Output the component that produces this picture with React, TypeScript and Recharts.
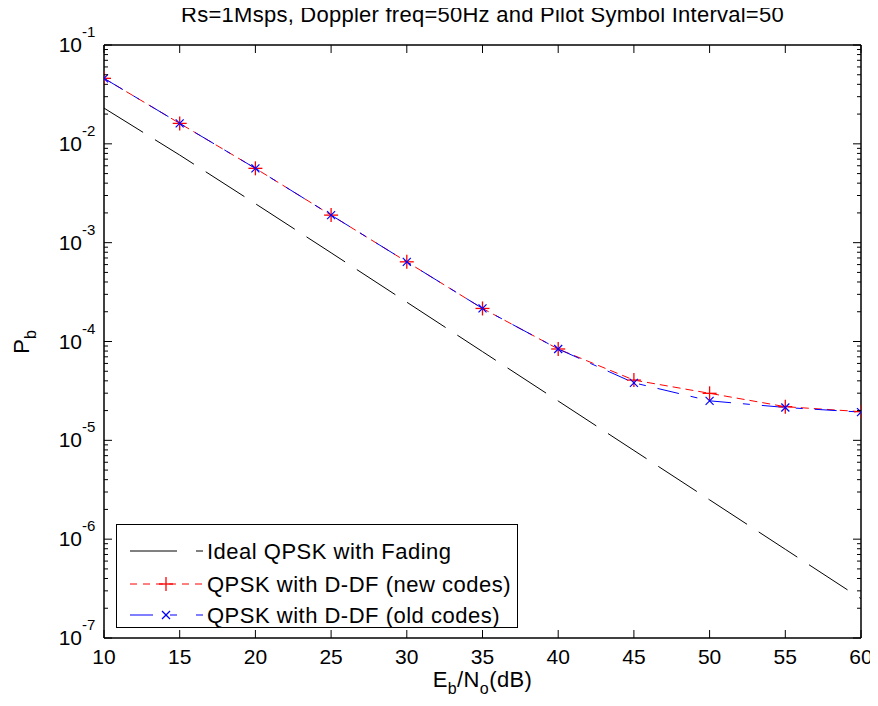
import React from 'react';
import { LineChart, Line, XAxis, YAxis, ReferenceLine, Legend } from 'recharts';

// ---- data ----
const ebNo = [10, 15, 20, 25, 30, 35, 40, 45, 50, 55, 60];
const idealQpsk = [2.3e-2, 7.7e-3, 2.48e-3, 7.9e-4, 2.5e-4, 7.9e-5, 2.5e-5, 7.9e-6, 2.5e-6, 7.9e-7, 2.5e-7];
const newCodes = [4.6e-2, 1.61e-2, 5.65e-3, 1.9e-3, 6.4e-4, 2.16e-4, 8.4e-5, 4.07e-5, 2.99e-5, 2.19e-5, 1.95e-5];
const oldCodes = [4.6e-2, 1.61e-2, 5.65e-3, 1.9e-3, 6.4e-4, 2.16e-4, 8.4e-5, 3.82e-5, 2.51e-5, 2.15e-5, 1.93e-5];

const xTicks = [10, 15, 20, 25, 30, 35, 40, 45, 50, 55, 60];
const yDecades = [1e-7, 1e-6, 1e-5, 1e-4, 1e-3, 1e-2, 1e-1];
const minorMultipliers = [2, 3, 4, 5, 6, 7, 8, 9];

const titleText = 'Rs=1Msps, Doppler freq=50Hz and Pilot Symbol Interval=50';
const seriesNames = {
  ideal: 'Ideal QPSK with Fading',
  newc: 'QPSK with D-DF (new codes)',
  oldc: 'QPSK with D-DF (old codes)',
};

const data = ebNo.map((x, i) => ({ x, ideal: idealQpsk[i], newc: newCodes[i], oldc: oldCodes[i] }));
const yTicks = [
  ...yDecades,
  ...yDecades.slice(0, -1).flatMap((d) => minorMultipliers.map((m) => d * m)),
].sort((a, b) => a - b);

// ---- layout ----
const W = 870;
const H = 698;
const PL = 96;
const PT = 37;
const PR = 17;
const XH = 68;
const PW = W - PL - PR;
const PH = H - PT - XH;
const FONT = '"Liberation Sans", Arial, Helvetica, sans-serif';

const STYLES: Record<string, { color: string; dash: string; width: number }> = {
  ideal: { color: '#000000', dash: '46 14', width: 1 },
  newc: { color: '#ff0000', dash: '8 5', width: 1 },
  oldc: { color: '#0000ff', dash: '22 12 7 12', width: 1 },
};

const YTick = (props: any) => {
  const { y, payload } = props;
  const v = payload.value;
  const lg = Math.log10(v);
  const major = Math.abs(lg - Math.round(lg)) < 1e-6;
  const len = major ? 8 : 4;
  return (
    <g>
      <line x1={PL} x2={PL + len} y1={y} y2={y} stroke="#000" strokeWidth={1} />
      <line x1={PL + PW} x2={PL + PW - len} y1={y} y2={y} stroke="#000" strokeWidth={1} />
      {major && (
        <g fontFamily={FONT} fill="#000">
          <text x={PL - 22} y={y + 7} textAnchor="end" fontSize={21}>10</text>
          <text x={PL - 22} y={y - 8} textAnchor="start" fontSize={15}>{String(Math.round(lg))}</text>
        </g>
      )}
    </g>
  );
};

const XTick = (props: any) => {
  const { x, payload } = props;
  return (
    <g>
      <line x1={x} x2={x} y1={PT + PH} y2={PT + PH - 8} stroke="#000" strokeWidth={1} />
      <line x1={x} x2={x} y1={PT} y2={PT + 8} stroke="#000" strokeWidth={1} />
      <text x={x} y={PT + PH + 26} textAnchor="middle" fontSize={21} fontFamily={FONT} fill="#000">
        {payload.value}
      </text>
    </g>
  );
};

const PlusDot = (props: any) => {
  const { cx, cy, index } = props;
  if (cx == null || cy == null) return <g key={`p${index}`} />;
  return (
    <g key={`p${index}`}>
      <line x1={cx - 7} x2={cx + 7} y1={cy} y2={cy} stroke="#ff0000" strokeWidth={1.3} />
      <line x1={cx} x2={cx} y1={cy - 7} y2={cy + 7} stroke="#ff0000" strokeWidth={1.3} />
    </g>
  );
};

const CrossDot = (props: any) => {
  const { cx, cy, index } = props;
  if (cx == null || cy == null) return <g key={`c${index}`} />;
  return (
    <g key={`c${index}`}>
      <line x1={cx - 4} x2={cx + 4} y1={cy - 4} y2={cy + 4} stroke="#0000ff" strokeWidth={1.2} />
      <line x1={cx - 4} x2={cx + 4} y1={cy + 4} y2={cy - 4} stroke="#0000ff" strokeWidth={1.2} />
    </g>
  );
};

const LegendBox = (props: any) => {
  const payload = (props.payload || []) as any[];
  const order = ['ideal', 'newc', 'oldc'];
  const rows = order
    .map((k) => payload.find((p) => p.dataKey === k))
    .filter(Boolean);
  const rowYs = [27, 60, 91];
  return (
    <svg width={402} height={104} style={{ display: 'block' }}>
      <rect x={0.5} y={0.5} width={401} height={103} fill="#fff" stroke="#000" strokeWidth={1} />
      {rows.map((p: any, i: number) => {
        const key = p.dataKey as string;
        const st = STYLES[key];
        const y = rowYs[i];
        return (
          <g key={key}>
            {key === 'ideal' && (
              <>
                <line x1={14} x2={61} y1={y} y2={y} stroke={st.color} strokeWidth={1} />
                <line x1={80} x2={87} y1={y} y2={y} stroke={st.color} strokeWidth={1} />
              </>
            )}
            {key === 'newc' && (
              <>
                <line x1={14} x2={87} y1={y} y2={y} stroke={st.color} strokeWidth={1} strokeDasharray="7 6" />
                <line x1={43} x2={57} y1={y} y2={y} stroke={st.color} strokeWidth={1.3} />
                <line x1={50} x2={50} y1={y - 7} y2={y + 7} stroke={st.color} strokeWidth={1.3} />
              </>
            )}
            {key === 'oldc' && (
              <>
                <line x1={14} x2={37} y1={y} y2={y} stroke={st.color} strokeWidth={1} />
                <line x1={54} x2={61} y1={y} y2={y} stroke={st.color} strokeWidth={1} />
                <line x1={80} x2={87} y1={y} y2={y} stroke={st.color} strokeWidth={1} />
                <line x1={46} x2={54} y1={y - 4} y2={y + 4} stroke={st.color} strokeWidth={1.2} />
                <line x1={46} x2={54} y1={y + 4} y2={y - 4} stroke={st.color} strokeWidth={1.2} />
              </>
            )}
            <text x={91} y={y + 8} fontSize={22} letterSpacing={0.5} fontFamily={FONT} fill="#000">
              {p.value}
            </text>
          </g>
        );
      })}
    </svg>
  );
};

export default function App() {
  return (
    <div style={{ position: 'relative', width: W, height: H, background: '#fff' }}>
      <LineChart width={W} height={H} data={data} margin={{ top: PT, right: PR, left: 0, bottom: 0 }}>
        <XAxis
          dataKey="x"
          type="number"
          domain={[10, 60]}
          ticks={xTicks}
          interval={0}
          tickSize={0}
          tickMargin={0}
          tickLine={false}
          tick={<XTick />}
          height={XH}
          axisLine={{ stroke: '#000', strokeWidth: 1.5 }}
          allowDataOverflow
        />
        <YAxis
          type="number"
          scale="log"
          domain={[1e-7, 1e-1]}
          ticks={yTicks}
          interval={0}
          tickSize={0}
          tickMargin={0}
          tickLine={false}
          tick={<YTick />}
          width={PL}
          axisLine={{ stroke: '#000', strokeWidth: 1.5 }}
          allowDataOverflow
        />
        <ReferenceLine y={1e-1} stroke="#000" strokeWidth={1.5} />
        <ReferenceLine x={60} stroke="#000" strokeWidth={1.5} />
        <Line
          dataKey="ideal"
          name={seriesNames.ideal}
          stroke={STYLES.ideal.color}
          strokeWidth={1}
          strokeDasharray={STYLES.ideal.dash}
          dot={false}
          isAnimationActive={false}
        />
        <Line
          dataKey="newc"
          name={seriesNames.newc}
          stroke={STYLES.newc.color}
          strokeWidth={1}
          strokeDasharray={STYLES.newc.dash}
          dot={(p: any) => <PlusDot {...p} key={`pd${p.index}`} />}
          isAnimationActive={false}
        />
        <Line
          dataKey="oldc"
          name={seriesNames.oldc}
          stroke={STYLES.oldc.color}
          strokeWidth={1}
          strokeDasharray={STYLES.oldc.dash}
          dot={(p: any) => <CrossDot {...p} key={`cd${p.index}`} />}
          isAnimationActive={false}
        />
        <Legend
          layout="vertical"
          align="center"
          verticalAlign="middle"
          content={<LegendBox />}
          wrapperStyle={{ position: 'absolute', left: 108, top: 516, width: 402, height: 104 }}
        />
      </LineChart>
      <svg
        width={W}
        height={H}
        style={{ position: 'absolute', left: 0, top: 0, pointerEvents: 'none', overflow: 'visible' }}
        fontFamily={FONT}
        fill="#000"
      >
        <text x={PL + PW / 2} y={14} textAnchor="middle" fontSize={22} letterSpacing={0.25}>
          {titleText}
        </text>
        <text x={PL + PW / 2} y={679} textAnchor="middle" fontSize={22} letterSpacing={0.4}>
          E<tspan fontSize={16} dy={7}>b</tspan>
          <tspan dy={-7}>/N</tspan>
          <tspan fontSize={16} dy={7}>o</tspan>
          <tspan dy={-7}>(dB)</tspan>
        </text>
        <text transform="rotate(-90)" x={-334} y={21} textAnchor="middle" fontSize={22}>
          P<tspan fontSize={16} dy={7}>b</tspan>
        </text>
      </svg>
    </div>
  );
}
